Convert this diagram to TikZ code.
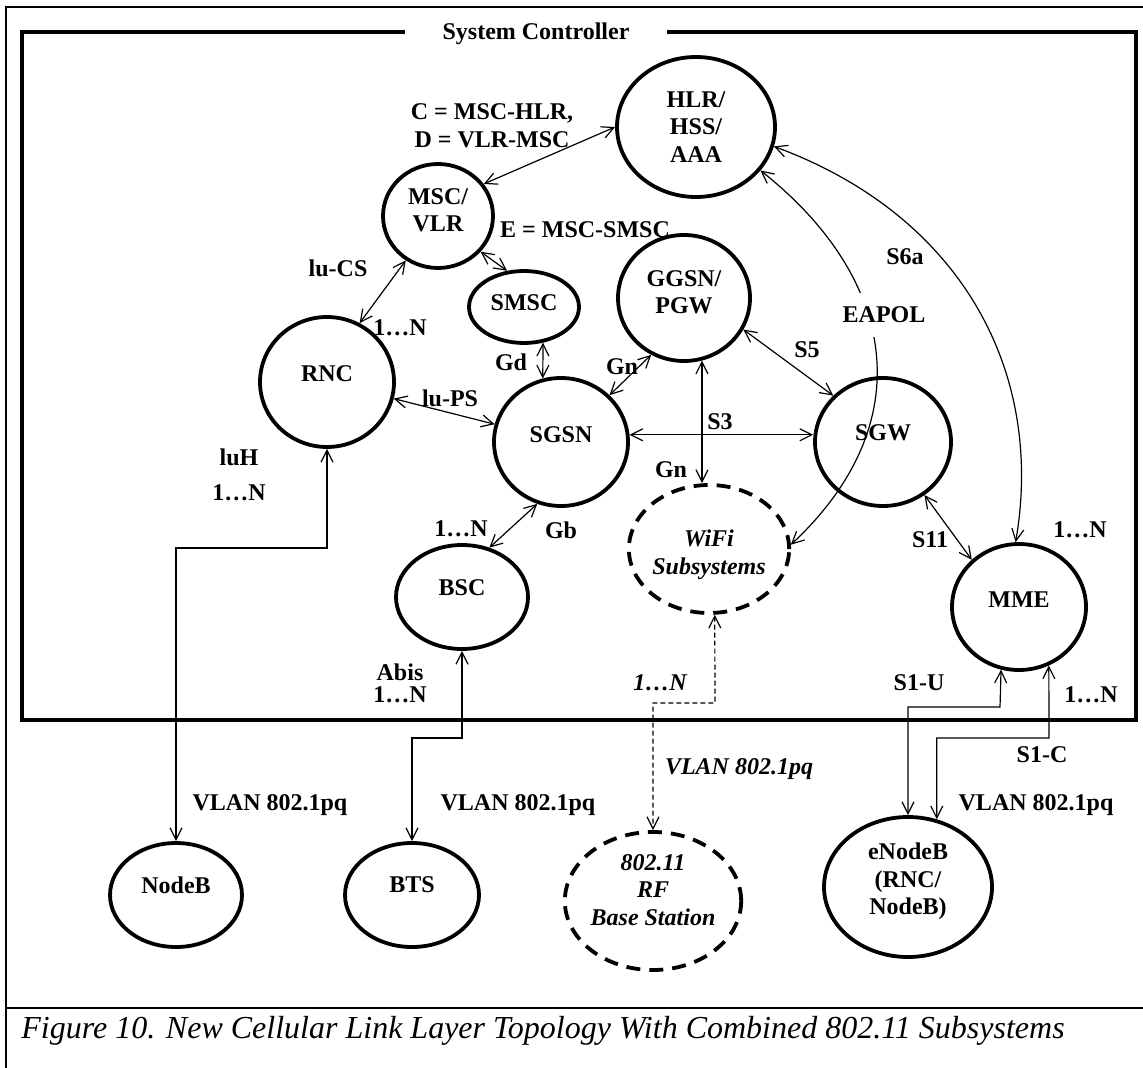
\documentclass[tikz,border=0pt]{standalone}
\usepackage{fontspec}
\setmainfont{Liberation Serif}
\usetikzlibrary{arrows.meta,shapes.geometric}

\begin{document}
\begin{tikzpicture}[x=0.5pt,y=-0.5pt,
  every node/.style={font=\fontsize{12}{13.8}\selectfont\bfseries},
  netnode/.style={ellipse, draw, line width=1.9pt, inner sep=0pt, align=center},
  wnode/.style={netnode, dash pattern=on 7pt off 4.5pt,
    font=\fontsize{12}{13.8}\selectfont\bfseries\itshape},
  raisetext/.style={text depth=#1},
  conn/.style={line width=0.6pt,
    {Straight Barb[length=6pt,width=6pt]}-{Straight Barb[length=6pt,width=6pt]}},
  wconn/.style={conn, dash pattern=on 2.5pt off 1.5pt},
  ilbl/.style={font=\fontsize{12}{13.8}\selectfont\bfseries\itshape},
  flat/.style={text depth=0pt}
]
\useasboundingbox (0,0) rectangle (1143,1068);

% page frame and caption rule
\draw[line width=1.3pt] (1143,7) -- (6,7) -- (6,1068);
\draw[line width=1.3pt] (6,1008) -- (1143,1008);

% system controller box
\draw[line width=2pt] (22,32) rectangle (1136,720);
\node[fill=white, inner sep=0pt, minimum width=131pt, minimum height=13pt, flat] (sc) at (536,31) {System Controller};

% network elements
\node[netnode, minimum width=79pt, minimum height=70pt] (hlr) at (696,127) {HLR/\\HSS/\\AAA};
\node[netnode, minimum width=55pt, minimum height=52pt, raisetext=6pt] (msc) at (438,216) {MSC/\\VLR};
\node[netnode, minimum width=55pt, minimum height=36pt, raisetext=4pt] (smsc) at (524,307) {SMSC};
\node[netnode, minimum width=67pt, minimum height=65pt, raisetext=8pt] (rnc) at (327,382) {RNC};
\node[netnode, minimum width=66pt, minimum height=63pt, raisetext=6pt] (ggsn) at (684,298) {GGSN/\\PGW};
\node[netnode, minimum width=67pt, minimum height=64pt, raisetext=7pt] (sgsn) at (561,442) {SGSN};
\node[netnode, minimum width=68pt, minimum height=64pt, raisetext=9pt] (sgw) at (883,442) {SGW};
\node[wnode, minimum width=66pt, minimum height=64pt, text height=28pt] (wifi) at (709,549) {WiFi\\Subsystems};
\node[netnode, minimum width=67pt, minimum height=63pt, raisetext=7pt] (mme) at (1019,607) {MME};
\node[netnode, minimum width=66pt, minimum height=52pt, raisetext=9pt] (bsc) at (462,597) {BSC};
\node[netnode, minimum width=66pt, minimum height=52pt, raisetext=10pt] (nodeb) at (176,895) {NodeB};
\node[netnode, minimum width=67pt, minimum height=52pt, raisetext=10pt] (bts) at (412,895) {BTS};
\node[wnode, minimum width=84pt, minimum height=69pt, raisetext=11pt] (rf) at (653,901) {802.11\\RF\\Base Station};
\node[netnode, minimum width=84pt, minimum height=70pt, raisetext=8pt] (enb) at (908,887) {eNodeB\\(RNC/\\NodeB)};

% bend points of the routed links
\coordinate (luhK) at (327,548);
\coordinate (abisK) at (462,738);
\coordinate (wK) at (715,703);
\coordinate (s1uK) at (1000,707);
\coordinate (s1cK) at (1049,738);

% interfaces
\draw[conn] (msc.35) -- (hlr.180);
\draw[conn] (msc.-40) -- (smsc.115);
\draw[conn] (rnc.61) -- (msc.234);
\draw[conn] (smsc.-62) -- (sgsn.106);
\draw[conn] (rnc.-14) -- (sgsn.165);
\draw[conn] (sgsn.44) -- (ggsn.240);
\draw[conn] (ggsn.-74) -- (ggsn.-74 |- wifi.north);
\draw[conn] (ggsn.-28) -- (sgw.137);
\draw[conn] (sgsn.6) -- (sgsn.6 -| sgw.west);
\draw[conn] (sgsn.249) -- (bsc.61);
\draw[conn] (sgw.-52) -- (mme.135);
\draw[conn] (hlr.-14) .. controls (960,215) and (1045,370) .. (mme.93);
\draw[conn] (hlr.-34) .. controls (895,277) and (923,421) .. (wifi.3);
\draw[conn] (rnc.south) -- (luhK) -| (nodeb.north);
\draw[conn] (bsc.south) -- (abisK) -| (bts.north);
\draw[wconn] (wifi.-85) -- (wK) -| (rf.north);
\draw[conn] (mme.254) -- (s1uK) -| (enb.north);
\draw[conn] (mme.-63) -- (s1cK) -| (enb.67);

% interface labels
\node[align=center] (lCD) at (492,126) {C = MSC-HLR,\\D = VLR-MSC};
\node (lE) at (585,230) {E = MSC-SMSC};
\node (lIuCS) at (338,268) {lu-CS};
\node (lN1) at (400,328) {1…N};
\node (lGd) at (511,362) {Gd};
\node (lIuPS) at (450,398) {lu-PS};
\node (lGn1) at (622,367) {Gn};
\node (lS5) at (807,350) {S5};
\node (lS6a) at (905,257) {S6a};
\node[fill=white, inner sep=0pt, minimum width=58pt, minimum height=22pt] (lEAPOL) at (884,315) {EAPOL};
\node (lS3) at (720,422) {S3};
\node (lGn2) at (671,470) {Gn};
\node (lIuH) at (239,457) {luH};
\node (lN2) at (239,493) {1…N};
\node (lN3) at (461,529) {1…N};
\node (lGb) at (561,530) {Gb};
\node (lS11) at (930,540) {S11};
\node (lN4) at (1080,530) {1…N};
\node (lAbis) at (400,672) {Abis};
\node (lN5) at (400,695) {1…N};
\node[ilbl] (lN6) at (660,683) {1…N};
\node (lS1U) at (919,683) {S1-U};
\node (lN7) at (1091,695) {1…N};
\node (lS1C) at (1042,755) {S1-C};
\node[flat] (lV1) at (270,803) {VLAN 802.1pq};
\node[flat] (lV2) at (518,803) {VLAN 802.1pq};
\node[ilbl, flat] (lV3) at (739,767) {VLAN 802.1pq};
\node[flat] (lV4) at (1036,803) {VLAN 802.1pq};

% caption
\node[anchor=base west, inner sep=0pt, font=\fontsize{16}{18}\selectfont\itshape] (cap) at (21,1038)
  {Figure 10. New Cellular Link Layer Topology With Combined 802.11 Subsystems};
\end{tikzpicture}
\end{document}
